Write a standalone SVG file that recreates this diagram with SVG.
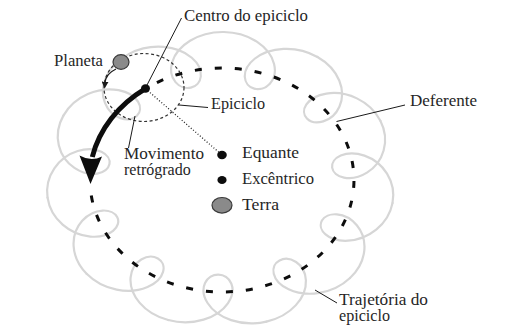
<svg xmlns="http://www.w3.org/2000/svg" xmlns:xlink="http://www.w3.org/1999/xlink" width="527" height="333" viewBox="0 0 527 333">
<style>
.lbl{font-family:'Liberation Serif','Times New Roman',Times,serif;font-size:16px;fill:#262626}
.traj{fill:none;stroke:#d6d6d6;stroke-width:2.2;stroke-linecap:round;vector-effect:non-scaling-stroke}
.lead{fill:none;stroke:#1a1a1a;stroke-width:1}
.dot{fill:#0d0d0d}
.body{fill:#8a8a8a;stroke:#3a3a3a;stroke-width:1.2}
</style>
<defs>
<path id="lobe" class="traj" d="M151.6,-44.51 C154.73,-33.87 154.25,-22.24 150.58,-12.49 C146.91,-2.74 140.14,5.01 132.66,9.21 C125.19,13.41 117.15,14.04 111.33,11.89 C105.51,9.74 102,4.9 102,0 C102,-4.9 105.51,-9.74 111.33,-11.89 C117.15,-14.04 125.19,-13.41 132.66,-9.21 C140.14,-5.01 146.91,2.74 150.58,12.49 C154.25,22.24 154.73,33.87 151.6,44.51"/>
<marker id="smallhead" viewBox="0 0 10 10" refX="2" refY="5" markerWidth="7" markerHeight="7" markerUnits="userSpaceOnUse" orient="auto">
<path d="M0,0 L10,5 L0,10 Z" fill="#1a1a1a"/>
</marker>
</defs>

<g id="trajetoria" transform="translate(220.5,179.4) scale(1.103,0.933)">
<use xlink:href="#lobe" href="#lobe" transform="rotate(-138)"/>
<use xlink:href="#lobe" href="#lobe" transform="rotate(-105.27)"/>
<use xlink:href="#lobe" href="#lobe" transform="rotate(-72.55)"/>
<use xlink:href="#lobe" href="#lobe" transform="rotate(-39.82)"/>
<use xlink:href="#lobe" href="#lobe" transform="rotate(-7.09)"/>
<use xlink:href="#lobe" href="#lobe" transform="rotate(25.64)"/>
<use xlink:href="#lobe" href="#lobe" transform="rotate(58.36)"/>
<use xlink:href="#lobe" href="#lobe" transform="rotate(91.09)"/>
<use xlink:href="#lobe" href="#lobe" transform="rotate(123.82)"/>
<use xlink:href="#lobe" href="#lobe" transform="rotate(156.55)"/>
<use xlink:href="#lobe" href="#lobe" transform="rotate(189.27)"/>
</g>

<g id="deferente">
<path d="M145.5,88.7 A132,112 0 1 1 90.5,190" fill="none" stroke="#0d0d0d" stroke-width="3" stroke-dasharray="7 13" stroke-dashoffset="7"/>
</g>

<g id="epiciclo">
<ellipse cx="144" cy="87.5" rx="40" ry="34" fill="none" stroke="#333" stroke-width="1.2" stroke-dasharray="3 2.5"/>
</g>

<g id="connectors">
<path d="M145.5,88.7 A132,112 0 0 0 92.3,157" fill="none" stroke="#0d0d0d" stroke-width="5"/>
<path d="M90.5,184 L79.5,155.5 Q91,162 102,156.5 Z" fill="#0d0d0d"/>
<path d="M116,69 Q105.5,74 105,83" fill="none" stroke="#1a1a1a" stroke-width="1.2" marker-end="url(#smallhead)"/>
<line x1="145.5" y1="88.7" x2="222" y2="155" stroke="#262626" stroke-width="1.3" stroke-dasharray="1 2"/>
<line class="lead" x1="146.5" y1="86" x2="181.5" y2="18"/>
<line class="lead" x1="179" y1="105" x2="208" y2="107.5"/>
<line class="lead" x1="336.5" y1="121.5" x2="405" y2="105"/>
<line class="lead" x1="128.5" y1="148" x2="135" y2="116"/>
<line class="lead" x1="315" y1="290" x2="337" y2="303"/>
</g>

<g id="centro">
<ellipse class="dot" cx="145.5" cy="88.5" rx="4.5" ry="4.2"/>
</g>
<g id="planeta">
<ellipse class="body" cx="121" cy="62" rx="8" ry="7.3"/>
</g>
<g id="equante">
<ellipse class="dot" cx="222" cy="155" rx="4.8" ry="4.2"/>
</g>
<g id="excentrico">
<ellipse class="dot" cx="222" cy="180" rx="4.6" ry="4"/>
</g>
<g id="terra">
<ellipse class="body" cx="222" cy="205.3" rx="10" ry="7.8"/>
</g>

<g id="labels" font-family="Liberation Serif, serif">
<text class="lbl" x="184" y="21" textLength="124" lengthAdjust="spacingAndGlyphs">Centro do epiciclo</text>
<text class="lbl" x="54" y="66" textLength="49" lengthAdjust="spacingAndGlyphs">Planeta</text>
<text class="lbl" x="211" y="109" textLength="54" lengthAdjust="spacingAndGlyphs">Epiciclo</text>
<text class="lbl" x="410" y="106" textLength="67" lengthAdjust="spacingAndGlyphs">Deferente</text>
<text class="lbl" x="124" y="159" textLength="80" lengthAdjust="spacingAndGlyphs">Movimento</text>
<text class="lbl" x="124" y="175">retrógrado</text>
<text class="lbl" x="242" y="158" textLength="57" lengthAdjust="spacingAndGlyphs">Equante</text>
<text class="lbl" x="242" y="184" textLength="72" lengthAdjust="spacingAndGlyphs">Excêntrico</text>
<text class="lbl" x="242" y="210" textLength="37" lengthAdjust="spacingAndGlyphs">Terra</text>
<text class="lbl" x="339" y="305" textLength="89" lengthAdjust="spacingAndGlyphs">Trajetória do</text>
<text class="lbl" x="339" y="321" textLength="51" lengthAdjust="spacingAndGlyphs">epiciclo</text>
</g>
</svg>
